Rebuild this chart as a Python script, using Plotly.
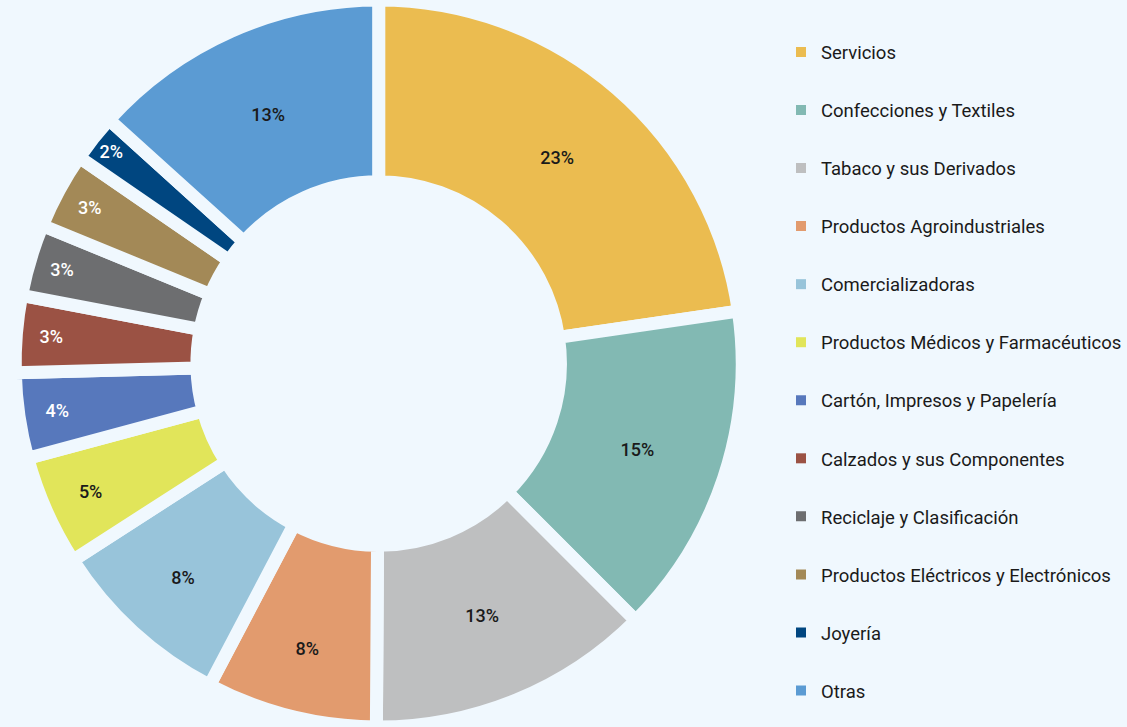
import plotly.graph_objects as go

# Sectores y participación (%)
sectores = ['Servicios', 'Confecciones y Textiles', 'Tabaco y sus Derivados',
            'Productos Agroindustriales', 'Comercializadoras',
            'Productos Médicos y Farmacéuticos', 'Cartón, Impresos y Papelería',
            'Calzados y sus Componentes', 'Reciclaje y Clasificación',
            'Productos Eléctricos y Electrónicos', 'Joyería', 'Otras']
valores = [22.7, 14.8, 12.6, 7.6, 8.2, 4.9, 3.8, 3.4, 3.2, 3.4, 2.1, 13.3]

colores = ['#EBBC50', '#82B9B3', '#BEBFC0', '#E29B6E', '#98C4DA', '#E1E55A',
           '#5778BC', '#9B5244', '#6D6E70', '#A38957', '#004680', '#5B9BD3']
color_texto = ['#1a1a1a'] * 6 + ['white'] * 5 + ['#1a1a1a']

fondo = '#F0F8FE'

fig = go.Figure()

fig.add_trace(go.Pie(
    labels=sectores, values=valores, hole=0.5, sort=False,
    direction='clockwise', rotation=0,
    domain=dict(x=[0, 0.672], y=[0, 1]),
    marker=dict(colors=colores, line=dict(color=fondo, width=13)),
    texttemplate='%{percent:.0%}', textposition='inside',
    insidetextorientation='horizontal',
    textfont=dict(family='Roboto', size=18, color=color_texto, weight=500),
    showlegend=False, hoverinfo='label+percent',
))

# leyenda con espaciado amplio: una traza vacía por sector
for nombre, col in zip(sectores, colores):
    fig.add_trace(go.Scatter(
        x=[None], y=[None], mode='markers', name=nombre, legendgroup=nombre,
        marker=dict(symbol='square', size=10, color=col),
    ))

fig.update_layout(
    width=1127, height=727,
    margin=dict(l=0, r=0, t=0, b=0),
    paper_bgcolor=fondo, plot_bgcolor=fondo,
    xaxis=dict(visible=False), yaxis=dict(visible=False),
    font=dict(family='Roboto', color='#1a1a1a'),
    legend=dict(x=0.693, y=0.954, xanchor='left', yanchor='top',
                font=dict(size=18.5, family='Roboto', color='#1a1a1a'),
                tracegroupgap=31, bgcolor='rgba(0,0,0,0)'),
)

fig.write_html('out.html', config={'displayModeBar': False},
               post_script="document.body.style.margin='0';"
                           "document.body.style.background='" + fondo + "';")
